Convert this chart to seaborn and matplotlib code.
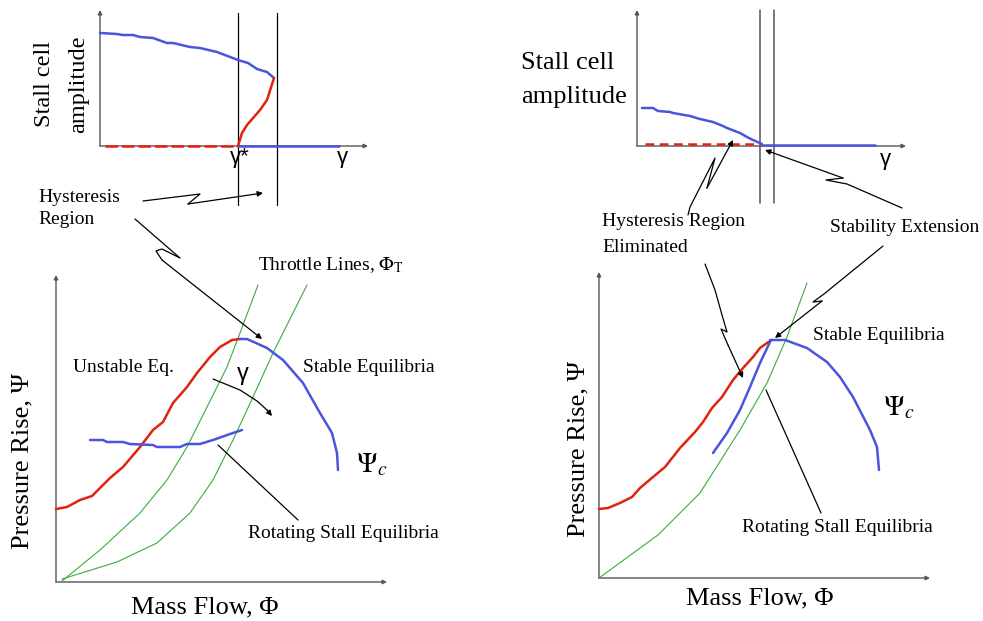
import numpy as np
import pandas as pd
import matplotlib
matplotlib.use("Agg")
import matplotlib.pyplot as plt
import seaborn as sns

sns.set_style("white")
plt.rcParams['font.family'] = ['Liberation Serif', 'DejaVu Serif']
plt.rcParams['mathtext.fontset'] = 'stix'

RED = '#e0230f'
BLUE = '#4a55dd'
GREEN = '#3cab3c'
AX = '#555555'

# ---------------- data (panel units) ----------------
# top-left: stall cell amplitude vs gamma
tl_blue_x = [0.00, 0.17, 0.23, 0.33, 0.40, 0.53, 0.67, 0.73, 0.90, 1.00, 1.17, 1.38, 1.48, 1.57, 1.67, 1.74]
tl_blue_y = [1.13, 1.12, 1.11, 1.11, 1.09, 1.08, 1.03, 1.03, 0.99, 0.98, 0.94, 0.86, 0.83, 0.77, 0.74, 0.68]
tl_red_x = [1.38, 1.42, 1.47, 1.60, 1.67, 1.74]
tl_red_y = [0.00, 0.13, 0.21, 0.36, 0.46, 0.68]
tl_dash_x = [0.05, 1.38]
tl_flat_x = [1.38, 2.39]
tl_vlines = [1.38, 1.77]

# top-right
tr_blue_x = [0.05, 0.16, 0.21, 0.33, 0.36, 0.53, 0.63, 0.76, 0.86, 0.90, 1.03, 1.10, 1.16, 1.25]
tr_blue_y = [0.38, 0.38, 0.35, 0.34, 0.33, 0.30, 0.27, 0.24, 0.20, 0.18, 0.13, 0.09, 0.06, 0.02]
tr_dash_x = [0.08, 1.25]
tr_flat_x = [1.25, 2.38]
tr_vlines = [1.23, 1.37]

# bottom-left: pressure rise vs mass flow
bl_red_x = [0.00, 0.11, 0.24, 0.36, 0.44, 0.54, 0.67, 0.84, 0.97, 1.07, 1.17, 1.31, 1.41, 1.54, 1.64, 1.76, 1.84]
bl_red_y = [0.73, 0.75, 0.82, 0.86, 0.94, 1.04, 1.15, 1.35, 1.52, 1.60, 1.79, 1.95, 2.09, 2.25, 2.35, 2.42, 2.43]
bl_stab_x = [1.84, 1.91, 2.11, 2.27, 2.47, 2.64, 2.76, 2.81, 2.82]
bl_stab_y = [2.43, 2.43, 2.34, 2.22, 1.99, 1.69, 1.49, 1.29, 1.12]
bl_rot_x = [0.34, 0.47, 0.51, 0.67, 0.74, 0.97, 1.01, 1.24, 1.31, 1.44, 1.57, 1.77, 1.86]
bl_rot_y = [1.42, 1.42, 1.40, 1.40, 1.38, 1.37, 1.35, 1.35, 1.38, 1.38, 1.42, 1.49, 1.52]
bl_thr1_x = [0.06, 0.44, 0.84, 1.11, 1.31, 1.51, 1.71, 1.84, 2.02]
bl_thr1_y = [0.01, 0.32, 0.69, 1.02, 1.35, 1.75, 2.15, 2.49, 2.97]
bl_thr2_x = [0.06, 0.61, 1.01, 1.34, 1.57, 1.77, 1.97, 2.17, 2.51]
bl_thr2_y = [0.03, 0.20, 0.39, 0.69, 1.02, 1.42, 1.85, 2.29, 2.97]

# bottom-right
br_red_x = [0.00, 0.09, 0.21, 0.33, 0.41, 0.54, 0.66, 0.81, 0.96, 1.04, 1.13, 1.23, 1.34, 1.44, 1.54, 1.61, 1.68, 1.73]
br_red_y = [0.69, 0.70, 0.75, 0.81, 0.90, 1.01, 1.11, 1.30, 1.46, 1.56, 1.70, 1.81, 1.98, 2.10, 2.21, 2.30, 2.35, 2.38]
br_stab_x = [1.71, 1.86, 2.08, 2.28, 2.41, 2.54, 2.71, 2.78, 2.80]
br_stab_y = [2.38, 2.38, 2.30, 2.16, 2.01, 1.81, 1.48, 1.31, 1.08]
br_rot_x = [1.14, 1.28, 1.41, 1.51, 1.61, 1.71]
br_rot_y = [1.25, 1.45, 1.68, 1.91, 2.15, 2.36]
br_thr_x = [0.00, 0.59, 1.01, 1.41, 1.68, 1.88, 2.08]
br_thr_y = [0.00, 0.43, 0.85, 1.48, 1.95, 2.41, 2.95]

W, H = 983, 621
fig = plt.figure(figsize=(W / 100, H / 100), dpi=100)


def panel(left, top, right, bottom, x0, y0):
    ax = fig.add_axes([left / W, 1 - bottom / H, (right - left) / W, (bottom - top) / H])
    ax.set_xlim((left - x0) / 100, (right - x0) / 100)
    ax.set_ylim((y0 - bottom) / 100, (y0 - top) / 100)
    ax.axis('off')
    ax.patch.set_alpha(0)
    return ax


def axes_arrows(ax, xend, ytop):
    kw = dict(arrowstyle='-|>', color=AX, lw=1.0, mutation_scale=6, shrinkA=0, shrinkB=0)
    ax.annotate('', xy=(xend, 0), xytext=(0, 0), arrowprops=kw, annotation_clip=False)
    ax.annotate('', xy=(0, ytop), xytext=(0, 0), arrowprops=kw, annotation_clip=False)


def line(ax, x, y, color, lw, **kw):
    df = pd.DataFrame({'x': x, 'y': y})
    sns.lineplot(data=df, x='x', y='y', ax=ax, color=color, lw=lw, sort=False,
                 estimator=None, legend=False, zorder=3, **kw)


# ---- top-left
ax1 = panel(90, 5, 380, 212, 100, 146)
axes_arrows(ax1, 2.68, 1.36)
line(ax1, tl_dash_x, [0, 0], RED, 1.8, linestyle=(0, (5, 1.6)))
line(ax1, tl_flat_x, [0, 0], BLUE, 1.8)
line(ax1, tl_blue_x, tl_blue_y, BLUE, 1.8)
line(ax1, tl_red_x, tl_red_y, RED, 1.8)
for xv in tl_vlines:
    ax1.plot([xv, xv], [1.33, -0.59], color='black', lw=0.9, clip_on=False)

# ---- top-right
ax2 = panel(625, 5, 915, 212, 637, 146)
axes_arrows(ax2, 2.69, 1.36)
line(ax2, tr_dash_x, [0.02, 0.02], RED, 1.8, linestyle=(0, (3.5, 2.2)))
line(ax2, tr_flat_x, [0.01, 0.01], BLUE, 1.8)
line(ax2, tr_blue_x, tr_blue_y, BLUE, 1.8)
for xv in tr_vlines:
    ax2.plot([xv, xv], [1.36, -0.57], color=AX, lw=1.1, clip_on=False)

# ---- bottom-left
ax3 = panel(45, 265, 395, 592, 56, 582)
axes_arrows(ax3, 3.31, 3.07)
line(ax3, bl_thr1_x, bl_thr1_y, GREEN, 0.8)
line(ax3, bl_thr2_x, bl_thr2_y, GREEN, 0.8)
line(ax3, bl_red_x, bl_red_y, RED, 1.8)
line(ax3, bl_stab_x, bl_stab_y, BLUE, 1.8)
line(ax3, bl_rot_x, bl_rot_y, BLUE, 1.8)

# ---- bottom-right
ax4 = panel(590, 265, 940, 588, 599, 578)
axes_arrows(ax4, 3.31, 3.06)
line(ax4, br_thr_x, br_thr_y, GREEN, 0.8)
line(ax4, br_red_x, br_red_y, RED, 1.8)
line(ax4, br_stab_x, br_stab_y, BLUE, 1.8)
line(ax4, br_rot_x, br_rot_y, BLUE, 1.8)

# ---------------- overlay for text and pointers ----------------
ov = fig.add_axes([0, 0, 1, 1])
ov.set_xlim(0, W)
ov.set_ylim(H, 0)
ov.axis('off')
ov.patch.set_alpha(0)


def txt(x, y, s, size, ha='left', va='center', rot=0, family=None):
    kw = {}
    if family:
        kw['family'] = family
    ov.text(x, y, s, fontsize=size, ha=ha, va=va, rotation=rot, color='black', **kw)


SANS = ['Liberation Sans', 'DejaVu Sans']

# top-left labels
txt(44, 84, 'Stall cell', 17.5, ha='center', rot=90)
txt(79, 84, 'amplitude', 17.5, ha='center', rot=90)
txt(240, 147, 'γ*', 16, ha='center', va='top', family=SANS)
txt(342, 147, 'γ', 16, ha='center', va='top', family=SANS)
txt(38, 197, 'Hysteresis', 14)
txt(38, 220, 'Region', 14)

# top-right labels
txt(521, 63, 'Stall cell', 19)
txt(521, 97, 'amplitude', 19)
txt(885, 149, 'γ', 16, ha='center', va='top', family=SANS)
txt(602, 222, 'Hysteresis Region', 14)
txt(602, 247, 'Eliminated', 14)
txt(830, 228, 'Stability Extension', 14)

# bottom-left labels
txt(258, 265, r'Throttle Lines, $\Phi_\mathrm{T}$', 14)
txt(73, 367, 'Unstable Eq.', 14)
txt(243, 363, 'γ', 17, ha='center', va='top', family=SANS)
txt(303, 367, 'Stable Equilibria', 14)
txt(356, 465, r'$\Psi_c$', 20)
txt(248, 533, 'Rotating Stall Equilibria', 14)
txt(22, 461, 'Pressure Rise, Ψ', 19, ha='center', rot=90)
txt(205, 607, 'Mass Flow, Φ', 19, ha='center')

# bottom-right labels
txt(813, 335, 'Stable Equilibria', 14)
txt(883, 408, r'$\Psi_c$', 20)
txt(742, 528, 'Rotating Stall Equilibria', 14)
txt(578, 449, 'Pressure Rise, Ψ', 19, ha='center', rot=90)
txt(760, 598, 'Mass Flow, Φ', 19, ha='center')


def pointer(pts, head=True):
    xs = [p[0] for p in pts]
    ys = [p[1] for p in pts]
    ov.plot(xs[:-1], ys[:-1], color='black', lw=0.9, solid_joinstyle='round')
    if head:
        ov.annotate('', xy=pts[-1], xytext=pts[-2],
                    arrowprops=dict(arrowstyle='-|>', color='black', lw=0.9,
                                    mutation_scale=8, shrinkA=0, shrinkB=0))
    else:
        ov.plot(xs[-2:], ys[-2:], color='black', lw=0.9)


# pointers
pointer([(143, 201), (200, 194), (188, 204), (263, 193)])
pointer([(135, 219), (180, 258), (162, 249), (156, 251), (162, 260), (262, 339)])
pointer([(213, 379), (240, 390), (257, 401), (267, 410), (272, 416)])
pointer([(218, 445), (298, 520)], head=False)
pointer([(688, 215), (690, 207), (715, 158), (707, 188), (733, 140)])
pointer([(902, 208), (847, 184), (826, 180), (843, 178), (765, 150)])
pointer([(705, 264), (715, 290), (722, 315), (727, 332), (721, 329), (728, 345), (743, 378)])
pointer([(883, 246), (824, 294), (813, 302), (822, 301), (775, 338)])
pointer([(766, 390), (821, 513)], head=False)

fig.savefig('out.png', dpi=100)
